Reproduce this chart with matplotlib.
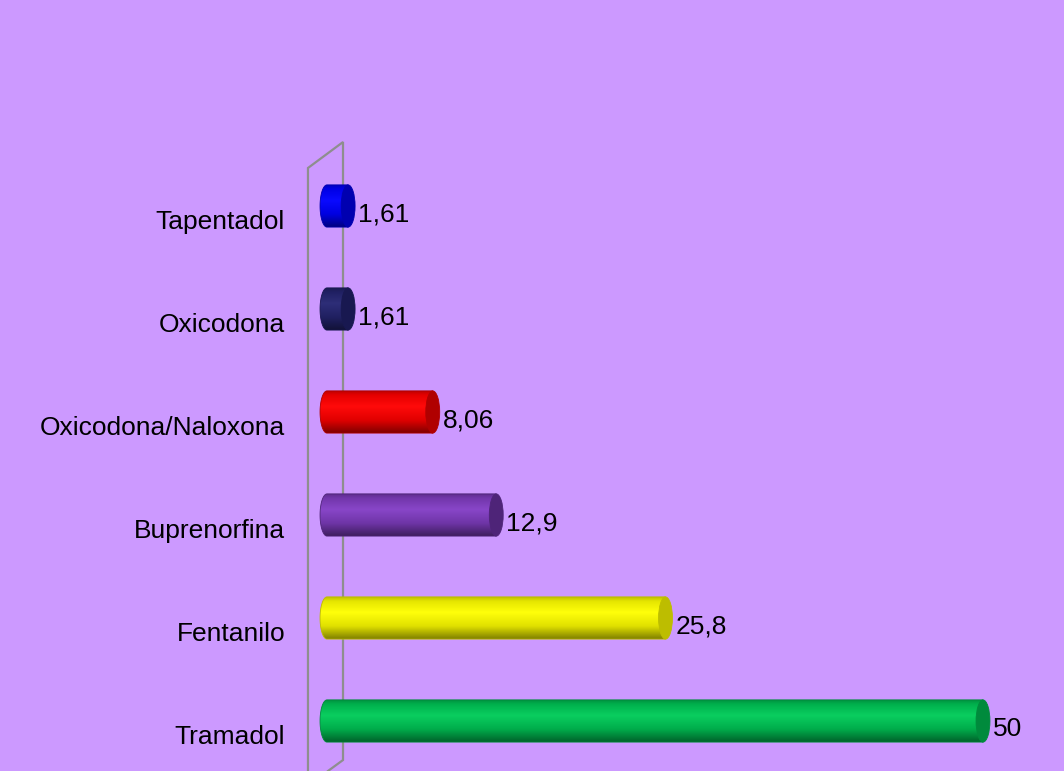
import numpy as np
import matplotlib.pyplot as plt
from matplotlib.patches import Ellipse, Polygon
from matplotlib.colors import LinearSegmentedColormap, to_rgb

plt.rcParams['font.family'] = ['Liberation Sans', 'DejaVu Sans']

labels = ['Tapentadol', 'Oxicodona', 'Oxicodona/Naloxona', 'Buprenorfina', 'Fentanilo', 'Tramadol']
values = [1.61, 1.61, 8.06, 12.9, 25.8, 50]
body_colors = ['#0000FF', '#24246E', '#FF0000', '#7E3CBE', '#FFFF00', '#00C455']
cap_colors = ['#0000B0', '#181850', '#B00000', '#4E2478', '#BDBD00', '#008A3C']

bg = '#CC99FF'


def fmt(v):
    s = ('%g' % v)
    return s.replace('.', ',')


def shade_cmap(color):
    r, g, b = to_rgb(color)
    def mix(f, w=0.0):
        return (min(1, r * f + w), min(1, g * f + w), min(1, b * f + w))
    return LinearSegmentedColormap.from_list(
        'cyl', [(0.0, mix(0.72)), (0.12, mix(0.9)), (0.38, mix(1.0, 0.04)),
                (0.7, mix(0.88)), (1.0, mix(0.5))])


fig = plt.figure(figsize=(10.64, 7.71), dpi=100)
fig.patch.set_facecolor(bg)
ax = fig.add_axes([0, 0, 1, 1])
ax.set_facecolor(bg)
ax.axis('off')

# px -> data: x0 = 327 px, 13.12 px per unit; rows 103 px apart, first centre 206 px
xmin, xmax = -327 / 13.12, (1064 - 327) / 13.12
ymin, ymax = -206 / 103, (771 - 206) / 103

# 3d wall outline
wall_col = '#8E8E8E'
ax.plot([-1.45, -1.45, 1.22, 1.22, 0.08], [ymax + 0.1, -0.369, -0.621, 5.379, 5.485],
        color=wall_col, lw=1.6, zorder=1, solid_joinstyle='miter', clip_on=False)

h = 0.41
a = 0.53  # half width of the end ellipses
grad = np.linspace(0, 1, 256).reshape(-1, 1)
theta = np.linspace(3 * np.pi / 2, np.pi / 2, 60)

for i, (lab, v) in enumerate(zip(labels, values)):
    yc = i
    b = h / 2
    # body outline: straight to the value, rounded back end at zero
    pts = [(v, yc - b), (v, yc + b)] + [(a * np.cos(t), yc - b * np.sin(t)) for t in theta]
    clip = Polygon(pts, closed=True, facecolor='none', edgecolor='none')
    ax.add_patch(clip)
    im = ax.imshow(grad, cmap=shade_cmap(body_colors[i]), aspect='auto',
                   extent=[-a, v, yc + b, yc - b], zorder=2, interpolation='bilinear')
    im.set_clip_path(clip)
    ax.add_patch(Polygon(pts, closed=True, facecolor='none',
                         edgecolor=cap_colors[i], lw=0.6, zorder=3))
    ax.add_patch(Ellipse((v, yc), 2 * a, h, facecolor=cap_colors[i],
                         edgecolor=cap_colors[i], lw=0.6, zorder=4))

    ax.text(-3.2, yc + 0.228, lab, ha='right', va='baseline', fontsize=19, color='black')
    ax.text(v + 0.76, yc + 0.15, fmt(v), ha='left', va='baseline', fontsize=19, color='black')

ax.set_xlim(xmin, xmax)
ax.set_ylim(ymax, ymin)

fig.savefig('out.png', dpi=100, facecolor=bg)
